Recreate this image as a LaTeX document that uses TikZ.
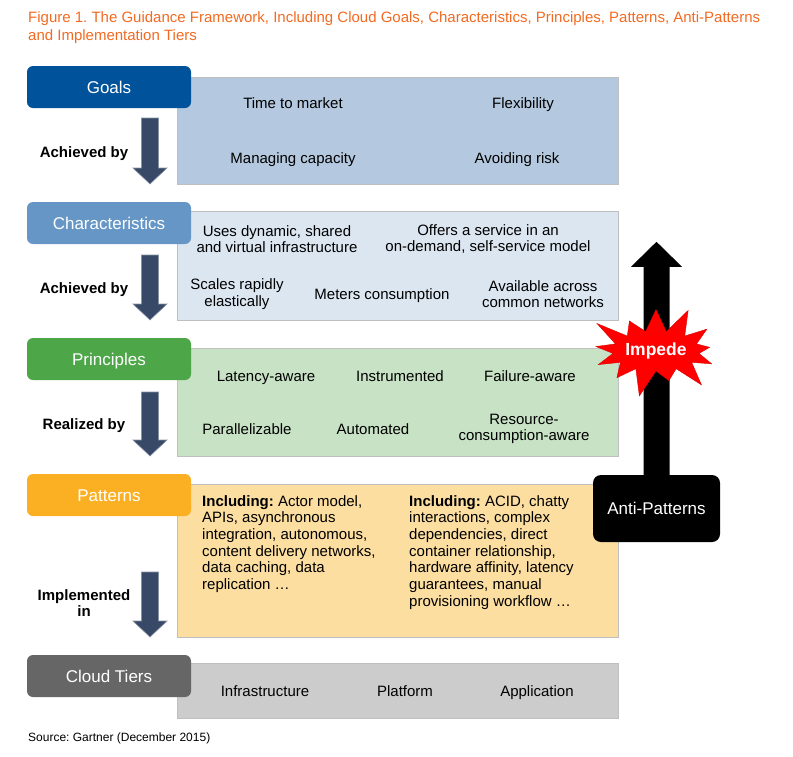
\documentclass[tikz,border=0pt]{standalone}
\usepackage{fontspec}
\setmainfont{Liberation Sans}
\usetikzlibrary{shapes.symbols,positioning}
\frenchspacing

\begin{document}
\begin{tikzpicture}
[x=1pt,y=-1pt,line join=miter,
% Styles
header/.style={rounded corners=6pt,minimum width=164pt,minimum height=42pt,inner sep=0pt,
  text=white,text height=12pt,text depth=0pt,font=\fontsize{17}{20}\selectfont},
layer/.style={anchor=north west,minimum width=441pt,inner sep=0pt,draw=black!25,line width=0.6pt},
item/.style={align=center,inner sep=0pt,font=\fontsize{15}{16.5}\selectfont},
single/.style={item,text height=10.7pt,text depth=0pt},
verb/.style={align=center,inner sep=0pt,font=\bfseries\fontsize{15}{16.5}\selectfont},
listing/.style={anchor=north west,align=left,inner sep=0pt,font=\fontsize{15}{16.7}\selectfont},
downarrow/.style={fill=arrowcolor,draw=arrowcolor!60!white,line width=0.6pt}]
% Colors
\definecolor{titlecolor}{RGB}{242,106,33}
\definecolor{goalscolor}{RGB}{0,82,155}
\definecolor{goalslight}{RGB}{180,201,223}
\definecolor{charcolor}{RGB}{101,150,198}
\definecolor{charlight}{RGB}{220,230,241}
\definecolor{princcolor}{RGB}{77,166,72}
\definecolor{princlight}{RGB}{199,226,196}
\definecolor{pattcolor}{RGB}{251,176,36}
\definecolor{pattlight}{RGB}{252,222,160}
\definecolor{tierscolor}{RGB}{102,102,102}
\definecolor{tierslight}{RGB}{204,204,204}
\definecolor{arrowcolor}{RGB}{55,73,102}
\useasboundingbox (0,0) rectangle (793,756);
% Title
\node[anchor=north west,align=left,inner sep=0pt,text=titlecolor,font=\fontsize{15}{18}\selectfont]
  (title) at (28,11) {Figure 1. The Guidance Framework, Including Cloud Goals, Characteristics, Principles, Patterns, Anti-Patterns\\
  and Implementation Tiers};
% Layers
\node[layer,fill=goalslight,minimum height=107pt] (goalsbody) at (177,77) {};
\node[layer,fill=charlight,minimum height=109pt] (charbody) at (177,211) {};
\node[layer,fill=princlight,minimum height=108pt] (princbody) at (177,348) {};
\node[layer,fill=pattlight,minimum height=153pt] (pattbody) at (177,484) {};
\node[layer,fill=tierslight,minimum height=55pt] (tiersbody) at (177,663) {};
% Headers
\node[header,fill=goalscolor] (goals) at (109,87) {Goals};
\node[header,fill=charcolor] (charac) at (109,223) {Characteristics};
\node[header,fill=princcolor] (princ) at (109,359) {Principles};
\node[header,fill=pattcolor] (patt) at (109,495) {Patterns};
\node[header,fill=tierscolor] (tiers) at (109,676) {Cloud Tiers};
% Down arrows
\foreach \ya/\yb in {118/184, 255/320, 392/456, 572/637}
  \draw[downarrow] (141.5,\ya) -- (158.5,\ya) -- (158.5,\yb-16) -- (167,\yb-16)
    -- (150,\yb) -- (133,\yb-16) -- (141.5,\yb-16) -- cycle;
\node[verb,text height=10.7pt,text depth=0pt] (ach1) at (84,152) {Achieved by};
\node[verb,text height=10.7pt,text depth=0pt] (ach2) at (84,288) {Achieved by};
\node[verb,text height=10.7pt,text depth=0pt] (real) at (84,424) {Realized by};
\node[verb] (impl) at (84,603) {Implemented\\in};
% Goals
\node[single] (ttm) at (293,103) {Time to market};
\node[single] (flex) at (523,103) {Flexibility};
\node[single] (cap) at (293,158) {Managing capacity};
\node[single] (risk) at (517,158) {Avoiding risk};
% Characteristics
\node[item] (shared) at (277,239) {Uses dynamic, shared\\and virtual infrastructure};
\node[item] (service) at (488,239) {Offers a service in an\\on-demand, self-service model};
\node[item] (scales) at (237,294) {Scales rapidly\\elastically};
\node[single] (meters) at (382,294) {Meters consumption};
\node[item] (avail) at (543,294) {Available across\\common networks};
% Principles
\node[single] (latency) at (266,376) {Latency-aware};
\node[single] (instr) at (400,376) {Instrumented};
\node[single] (failure) at (530,376) {Failure-aware};
\node[single] (para) at (247,429) {Parallelizable};
\node[single] (auto) at (373,429) {Automated};
\node[item] (resource) at (524,429) {Resource-\\consumption-aware};
% Patterns
\node[listing] (goodpatt) at (202,495) {\textbf{Including:} Actor model,\\APIs, asynchronous\\integration, autonomous,\\content delivery networks,\\data caching, data\\replication \dots};
\node[listing] (badpatt) at (409,495) {\textbf{Including:} ACID, chatty\\interactions, complex\\dependencies, direct\\container relationship,\\hardware affinity, latency\\guarantees, manual\\provisioning workflow \dots};
% Cloud tiers
\node[single] (infra) at (265,691) {Infrastructure};
\node[single] (platform) at (405,691) {Platform};
\node[single] (app) at (537,691) {Application};
% Anti-patterns
\node[rounded corners=8pt,fill=black,minimum width=127pt,minimum height=67pt,inner sep=0pt,
  text=white,text height=12pt,text depth=0pt,font=\fontsize{17}{20}\selectfont] (anti) at (656.5,508.5) {Anti-Patterns};
\fill[black] (anti.north) ++(-13,1) -- ++(0,-209) -- ++(-12.5,0) -- ++(25.5,-25)
  -- ++(25.5,25) -- ++(-12.5,0) -- ++(0,209) -- cycle;
\node[starburst,starburst points=13,starburst point height=30pt,fill=red,draw=red!85!black,
  minimum width=122pt,minimum height=100pt,inner sep=0pt,text=white,
  font=\bfseries\fontsize{17.5}{20}\selectfont] (impede) at (656,351) {Impede};
% Source
\node[anchor=west,inner sep=0pt,font=\fontsize{12}{14}\selectfont] (source) at (28,738)
  {Source: Gartner (December 2015)};
\end{tikzpicture}
\end{document}
